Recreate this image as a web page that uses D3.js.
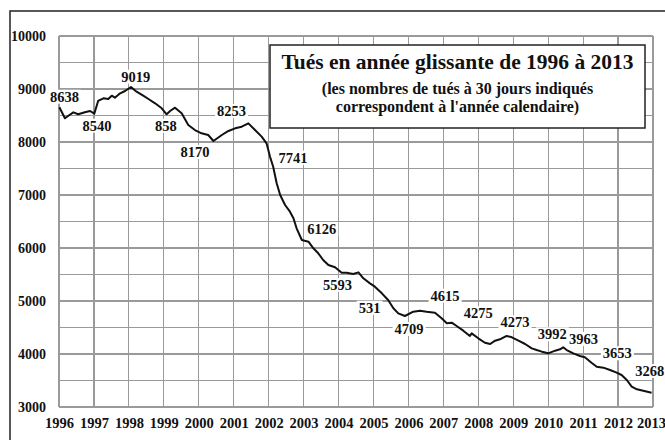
<!DOCTYPE html>
<html>
<head>
<meta charset="utf-8">
<script src="https://cdn.jsdelivr.net/npm/d3@7"></script>
<style>
    body { margin: 0; background: #fff; }
    svg text { font-family: "Liberation Serif", "Times New Roman", serif; font-weight: bold; fill: #111; }
</style>
</head>
<body>
<svg id="chart" width="665" height="440"></svg>
<script>
(function () {
    'use strict';

    // rolling 12-month road deaths
    const years = [
        1996.01, 1996.17, 1996.27, 1996.41, 1996.55, 1996.74, 1996.89, 1997.01, 1997.12, 1997.27,
        1997.41, 1997.51, 1997.60, 1997.75, 1997.89, 1998.06, 1998.22, 1998.41, 1998.56, 1998.75,
        1998.94, 1999.08, 1999.18, 1999.32, 1999.51, 1999.70, 1999.89, 2000.08, 2000.27, 2000.42,
        2000.66, 2000.85, 2001.04, 2001.23, 2001.42, 2001.61, 2001.80, 2001.94, 2002.04, 2002.13,
        2002.23, 2002.33, 2002.47, 2002.61, 2002.71, 2002.80, 2002.95, 2003.14, 2003.28, 2003.42,
        2003.56, 2003.71, 2003.90, 2004.09, 2004.23, 2004.42, 2004.57, 2004.71, 2004.90, 2005.04,
        2005.24, 2005.42, 2005.57, 2005.71, 2005.90, 2006.14, 2006.33, 2006.52, 2006.76, 2006.95,
        2007.10, 2007.24, 2007.38, 2007.57, 2007.76, 2007.81, 2008.00, 2008.19, 2008.34, 2008.48,
        2008.62, 2008.81, 2008.96, 2009.15, 2009.34, 2009.53, 2009.67, 2009.82, 2010.00, 2010.20,
        2010.34, 2010.43, 2010.53, 2010.72, 2010.91, 2011.05, 2011.24, 2011.39, 2011.58, 2011.77,
        2011.96, 2012.10, 2012.25, 2012.39, 2012.54, 2012.72, 2012.96
    ];
    const killed = [
        8655, 8447, 8496, 8560, 8523, 8560, 8585, 8534, 8774, 8824,
        8811, 8874, 8836, 8918, 8962, 9038, 8950, 8874, 8811, 8730,
        8636, 8523, 8585, 8648, 8541, 8321, 8226, 8164, 8132, 8019,
        8132, 8208, 8258, 8289, 8352, 8226, 8101, 7975, 7720, 7534,
        7221, 7000, 6811, 6685, 6560, 6372, 6151, 6119, 5994, 5900,
        5774, 5679, 5636, 5534, 5534, 5509, 5541, 5428, 5333, 5270,
        5145, 5019, 4862, 4767, 4717, 4798, 4817, 4798, 4780, 4673,
        4579, 4591, 4528, 4440, 4340, 4390, 4296, 4213, 4189, 4251,
        4277, 4340, 4315, 4251, 4189, 4107, 4075, 4044, 4013, 4063,
        4088, 4126, 4075, 4013, 3962, 3937, 3836, 3760, 3742, 3698,
        3648, 3604, 3509, 3383, 3333, 3308, 3270
    ];

    // annual (30-day) figures printed on the chart, anchored where they sit
    const labelTexts = ['8638', '8540', '9019', '858', '8170', '8253', '7741', '6126', '5593', '531',
        '4709', '4615', '4275', '4273', '3992', '3963', '3653', '3268'];
    const labelYears = [1996.16, 1997.09, 1998.20, 1999.06, 1999.89, 2000.94, 2002.70, 2003.52, 2003.97, 2004.89,
        2006.02, 2007.05, 2008.00, 2009.05, 2010.12, 2011.01, 2011.98, 2012.91];
    const labelValues = [8760, 8213, 9138, 8213, 7717, 8491, 7609, 6264, 5208, 4779,
        4377, 5006, 4674, 4504, 4277, 4189, 3919, 3585];

    const yearTicks = d3.range(1996, 2014);
    const valueTicks = [3000, 4000, 5000, 6000, 7000, 8000, 9000, 10000];
    const gridValues = d3.range(3000, 10001, 500);

    const title = 'Tués en année glissante de 1996 à 2013';
    const subtitle = ['(les nombres de tués à 30 jours indiqués', 'correspondent à l\'année calendaire)'];

    const svg = d3.select('#chart');
    const x = d3.scaleLinear().domain([1996, 2013]).range([59, 653]);
    const y = d3.scaleLinear().domain([3000, 10000]).range([407, 36]);

    // outer frame (only the top and left edges are visible)
    svg.append('path')
        .attr('d', 'M10,440V11H665')
        .attr('fill', 'none')
        .attr('stroke', '#222')
        .attr('stroke-width', 1.5);

    const grid = svg.append('g').attr('class', 'grid');
    grid.selectAll('.v')
        .data(yearTicks)
        .enter()
        .append('line')
        .attr('class', 'v')
        .attr('x1', d => x(d)).attr('x2', d => x(d))
        .attr('y1', y(10000)).attr('y2', y(3000));
    grid.selectAll('.h')
        .data(gridValues)
        .enter()
        .append('line')
        .attr('class', 'h')
        .attr('x1', x(1996)).attr('x2', x(2013))
        .attr('y1', d => y(d)).attr('y2', d => y(d));
    grid.selectAll('line')
        .attr('stroke', '#9a9a9a')
        .attr('stroke-width', 1.2)
        .attr('shape-rendering', 'crispEdges');

    // axes: labels only, the grid does the rest
    const yAxis = svg.append('g')
        .attr('transform', `translate(${x(1996)},0)`)
        .call(d3.axisLeft(y).tickValues(valueTicks).tickSize(0).tickPadding(13).tickFormat(d3.format('d')));
    const xAxis = svg.append('g')
        .attr('transform', `translate(0,${y(3000)})`)
        .call(d3.axisBottom(x).tickValues(yearTicks).tickSize(0).tickPadding(11).tickFormat(d3.format('d')));
    [yAxis, xAxis].forEach(axis => {
        axis.select('.domain').remove();
        axis.selectAll('text')
            .attr('fill', '#111')
            .style('font-family', '"Liberation Serif", "Times New Roman", serif')
            .style('font-weight', 'bold');
    });
    yAxis.selectAll('text').style('font-size', '14px');
    xAxis.selectAll('text').style('font-size', '14.5px');
    // last year sits against the page edge, pull it in a touch
    xAxis.selectAll('.tick').filter(d => d === 2013).select('text').attr('dx', -2);

    // the rolling series
    const series = years.map((year, i) => ({ year: year, value: killed[i] }));
    svg.append('path')
        .datum(series)
        .attr('fill', 'none')
        .attr('stroke', '#111')
        .attr('stroke-width', 2)
        .attr('stroke-linejoin', 'round')
        .attr('d', d3.line().x(d => x(d.year)).y(d => y(d.value)));

    // value labels sit on white so the grid breaks around them
    const labels = svg.append('g').attr('class', 'labels');
    labelTexts.forEach((label, i) => {
        const group = labels.append('g');
        const text = group.append('text')
            .attr('x', x(labelYears[i]))
            .attr('y', y(labelValues[i]))
            .attr('text-anchor', 'middle')
            .style('font-size', '14.5px')
            .text(label);
        const box = text.node().getBBox();
        group.insert('rect', 'text')
            .attr('x', box.x - 2)
            .attr('y', box.y + 1)
            .attr('width', box.width + 4)
            .attr('height', box.height - 2)
            .attr('fill', '#fff');
    });

    // title box
    const titleBox = svg.append('g');
    titleBox.append('rect')
        .attr('x', 270)
        .attr('y', 45)
        .attr('width', 375)
        .attr('height', 83)
        .attr('fill', '#fff')
        .attr('stroke', '#222')
        .attr('stroke-width', 1.5);
    titleBox.append('text')
        .attr('x', 457.5)
        .attr('y', 69)
        .attr('text-anchor', 'middle')
        .style('font-size', '21.5px')
        .text(title);
    titleBox.selectAll('.sub')
        .data(subtitle)
        .enter()
        .append('text')
        .attr('class', 'sub')
        .attr('x', 457.5)
        .attr('y', (d, i) => 94 + i * 18)
        .attr('text-anchor', 'middle')
        .style('font-size', '16px')
        .text(d => d);
})();
</script>
</body>
</html>
